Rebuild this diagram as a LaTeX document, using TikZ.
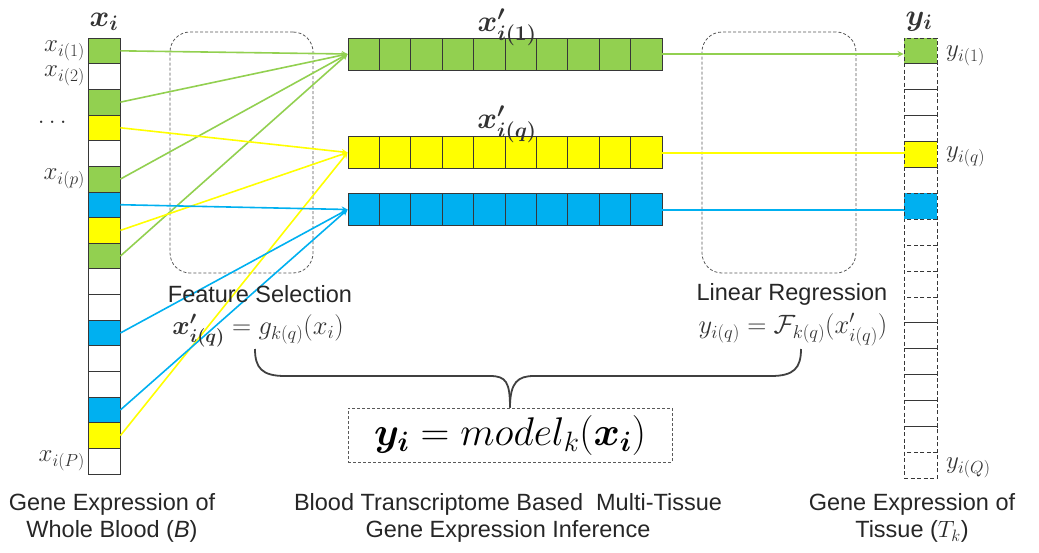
\documentclass[tikz,border=0pt]{standalone}
\usepackage{fix-cm}
\usepackage{amsmath,amssymb,bm}
\usepackage{fontspec}
\setsansfont{Liberation Sans}
\usepackage{tikz}
\usepackage{xcolor}

\definecolor{cg}{RGB}{146,208,80}
\definecolor{cy}{RGB}{255,255,0}
\definecolor{cb}{RGB}{0,176,240}
\definecolor{cellline}{RGB}{55,55,55}

\begin{document}
\begin{tikzpicture}[
    x=1pt, y=-1pt,
    cell/.style={
        draw=cellline, line width=0.8pt,
        minimum width=32pt, minimum height=25.65pt, inner sep=0pt
    },
    bar/.style={
        draw=cellline, line width=0.8pt,
        minimum width=31.4pt, minimum height=32pt, inner sep=0pt
    },
    ycell/.style={
        draw=cellline, dash pattern=on 4pt off 2.5pt, line width=0.9pt,
        minimum width=33pt, minimum height=25.9pt, inner sep=0pt
    },
    group/.style={draw=black!65, dash pattern=on 3pt off 2pt, line width=0.8pt, rounded corners=20pt},
    arrow/.style={->, >=stealth, line width=1.6pt},
    link/.style={line width=2pt},
    brace/.style={draw=black!75, line width=1.8pt},
    lbl/.style={font=\fontsize{23.5}{27}\selectfont\sffamily, text=black!85, align=center, inner sep=1pt},
    sym/.style={font=\fontsize{25}{29}\selectfont, text=black!80, inner sep=1pt}
]
\useasboundingbox (0,0) rectangle (1039,552);

% whole blood column
\foreach \c [count=\n] in {cg,white,cg,cy,white,cg,cb,cy,cg,white,white,cb,white,white,cb,cy,white}
    \node[cell, fill=\c] (L\n) at (104, {38+25.65*\n-12.825}) {};

% selected feature vectors
\foreach \r/\c/\yy in {G/cg/54, Y/cy/152.5, B/cb/209.5}
    \foreach \n in {1,...,10}
        \node[bar, fill=\c] (\r\n) at ({348+31.4*\n-15.7}, \yy) {};

% tissue column (dashed)
\foreach \c [count=\n] in {cg,white,white,white,cy,white,cb,white,white,white,white,white,white,white,white,white,white}
    \node[ycell, fill=\c] (R\n) at (920.5, {38+25.9*\n-12.95}) {};

% dashed groups
\node[group, minimum width=143pt, minimum height=241pt] (sel) at (241.5,152.5) {};
\node[group, minimum width=154pt, minimum height=241pt] (reg) at (779,152.5) {};

% feature selection edges
\foreach \n in {1,3,6,9}
    \draw[arrow, cg] (L\n.east) -- (G1.west);
\foreach \n in {4,8,16}
    \draw[arrow, cy] (L\n.east) -- (Y1.west);
\foreach \n in {7,12,15}
    \draw[arrow, cb] (L\n.east) -- (B1.west);

% regression edges
\draw[arrow, cg] (G10.east) -- (G10.east -| R1.west);
\draw[link, cy] (Y10.east) -- (Y10.east -| R5.west);
\draw[link, cb] (B10.east) -- (B10.east -| R7.west);

% vector labels
\node[sym, anchor=base, font=\fontsize{30}{34}\selectfont] (xi) at (104,26) {$\bm{x_i}$};
\node[sym, anchor=base, font=\fontsize{30}{34}\selectfont] (yi) at (919,25) {$\bm{y_i}$};
\node[sym, anchor=base, font=\fontsize{30}{34}\selectfont] (xp1) at (507,31) {$\bm{x'_{i(1)}}$};
\node[sym, anchor=base, font=\fontsize{30}{34}\selectfont] (xpq) at (507,128) {$\bm{x'_{i(q)}}$};

\node[sym, anchor=east] (xl1) at (86,51) {$x_{i(1)}$};
\node[sym, anchor=east] (xl2) at (86,76) {$x_{i(2)}$};
\node[sym, anchor=east] (xldots) at (72,122) {$\dots$};
\node[sym, anchor=east] (xlp) at (86,179) {$x_{i(p)}$};
\node[sym, anchor=east] (xlP) at (86,461) {$x_{i(P)}$};

\node[sym, anchor=west] (yl1) at (945,56) {$y_{i(1)}$};
\node[sym, anchor=west] (ylq) at (945,157) {$y_{i(q)}$};
\node[sym, anchor=west] (ylQ) at (945,468) {$y_{i(Q)}$};

% step labels
\node[lbl] (seltxt) at (260,294) {Feature Selection};
\node[sym, font=\fontsize{26.5}{30}\selectfont] (selfun) at (258,331) {$\bm{x'_{i(q)}} = g_{k(q)}(x_i)$};
\node[lbl] (regtxt) at (792,294) {Linear Regression};
\node[sym, font=\fontsize{26.5}{30}\selectfont] (regfun) at (793,330) {$y_{i(q)} = \mathcal{F}_{k(q)}(x'_{i(q)})$};

% model box + brace
\node[draw=black!65, dash pattern=on 3pt off 2pt, line width=0.8pt,
      minimum width=324pt, minimum height=54pt,
      font=\fontsize{40}{48}\selectfont] (model) at (510,435)
      {$\bm{y_i} = model_k(\bm{x_i})$};
\draw[brace] (255,349) .. controls (255,368) and (262,376) .. (285,376) -- (490,376)
    .. controls (506,376) and (model.north |- 0,382) .. (model.north);
\draw[brace] (801,349) .. controls (801,368) and (794,376) .. (771,376) -- (534,376)
    .. controls (518,376) and (model.north |- 0,382) .. (model.north);

% captions
\node[lbl] (capB) at (112,518) {Gene Expression of\\Whole Blood (\textit{B})};
\node[lbl] (capM) at (508,518) {Blood Transcriptome Based\ \ Multi-Tissue\\Gene Expression Inference};
\node[lbl] (capT) at (912,518) {Gene Expression of\\Tissue ($T_k$)};

\end{tikzpicture}
\end{document}
